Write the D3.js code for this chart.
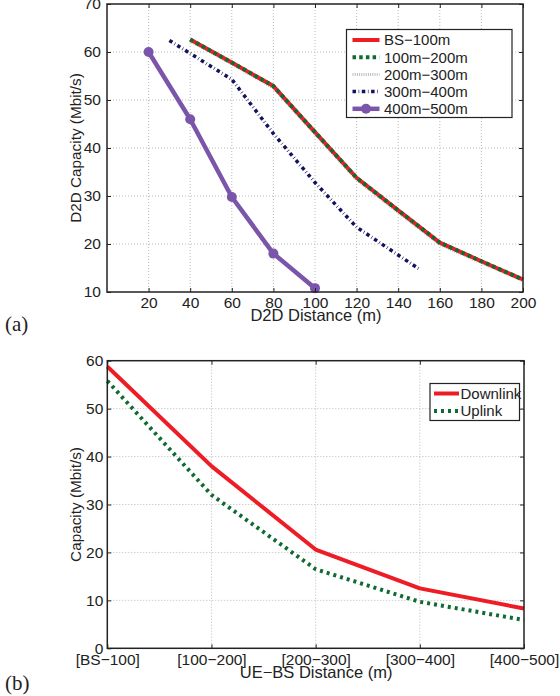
<!DOCTYPE html>
<html>
<head>
<meta charset="utf-8">
<script src="https://cdn.jsdelivr.net/npm/d3@7"></script>
<style>
  body { margin: 0; background: #fff; }
  text { font-family: "Liberation Sans", Arial, sans-serif; fill: #222; }
  .panel { font-family: "Liberation Serif", "Times New Roman", serif; }
</style>
</head>
<body>
<div id="chart"></div>
<script>
// ---- chart (a) data ----
const d2dX = [40, 60, 80, 100, 120, 140, 160, 180, 200];
const bs100 = [62.6, 57.8, 52.9, 43.3, 33.8, 27.0, 20.3, 16.4, 12.6];
const m100_200 = [62.6, 57.8, 52.9, 43.3, 33.8, 27.0, 20.3, 16.4, 12.6];
const m200_300 = [62.3, 57.5, 52.5, 42.9, 33.4, 26.6, 19.9, 16.1, 12.3];
const d2dX300 = [30, 60, 80, 100, 120, 150];
const m300_400 = [62.4, 54.3, 43.0, 32.8, 23.5, 14.8];
const d2dX400 = [20, 40, 60, 80, 100];
const m400_500 = [60, 46, 29.8, 18, 10.8];
const ticksAx = [20, 40, 60, 80, 100, 120, 140, 160, 180, 200];
const ticksAy = [10, 20, 30, 40, 50, 60, 70];

// ---- chart (b) data ----
const ueBsCats = ["[BS\u2212100]", "[100\u2212200]", "[200\u2212300]", "[300\u2212400]", "[400\u2212500]"];
const downlink = [58.8, 38.0, 20.6, 12.5, 8.3];
const uplink = [55.8, 32.0, 16.5, 9.7, 5.9];
const ticksBy = [0, 10, 20, 30, 40, 50, 60];

const svg = d3.select('#chart').append('svg')
  .attr('width', 560).attr('height', 696)
  .style('background', '#fff');

const pair = (xs, ys) => xs.map((x, i) => [x, ys[i]]);

// ================= chart (a) =================
const A = {left: 107, top: 4, width: 416, height: 288};
const ga = svg.append('g').attr('transform', `translate(${A.left},${A.top})`);
const xA = d3.scaleLinear([0, 200], [0, A.width]);
const yA = d3.scaleLinear([10, 70], [A.height, 0]);

// grid
ga.append('g').selectAll('line').data(ticksAx.filter(d => d < 200)).enter().append('line')
  .attr('x1', d => xA(d)).attr('x2', d => xA(d)).attr('y1', 0).attr('y2', A.height)
  .attr('stroke', '#aaa').attr('stroke-width', 0.8).attr('stroke-dasharray', '1,2');
ga.append('g').selectAll('line').data(ticksAy.filter(d => d > 10 && d < 70)).enter().append('line')
  .attr('y1', d => yA(d)).attr('y2', d => yA(d)).attr('x1', 0).attr('x2', A.width)
  .attr('stroke', '#aaa').attr('stroke-width', 0.8).attr('stroke-dasharray', '1,2');

const lineA = d3.line().x(d => xA(d[0])).y(d => yA(d[1]));

const seriesA = [
  {name: "BS\u2212100m", pts: pair(d2dX, bs100), color: '#ee1c24', w: 4, dash: null},
  {name: "100m\u2212200m", pts: pair(d2dX, m100_200), color: '#0f6b32', w: 4, dash: '3.5,3.2'},
  {name: "200m\u2212300m", pts: pair(d2dX, m200_300), color: '#bdbdbd', w: 3, dash: '1,1.2'},
  {name: "300m\u2212400m", pts: pair(d2dX300, m300_400), color: '#12135a', w: 3.5, dash: '3.5,2.6,0.6,2.6'},
  {name: "400m\u2212500m", pts: pair(d2dX400, m400_500), color: '#7a55aa', w: 4.5, dash: null, marker: true}
];
// draw order: gray under, then red, green on top
[2, 0, 1, 3, 4].forEach(i => {
  const s = seriesA[i];
  ga.append('path').datum(s.pts).attr('d', lineA)
    .attr('fill', 'none').attr('stroke', s.color).attr('stroke-width', s.w)
    .attr('stroke-dasharray', s.dash).attr('stroke-linejoin', 'round');
  if (s.marker) {
    ga.selectAll('.mk').data(s.pts).enter().append('circle')
      .attr('cx', d => xA(d[0])).attr('cy', d => yA(d[1])).attr('r', 5)
      .attr('fill', s.color);
  }
});

// axes box + ticks
ga.append('rect').attr('width', A.width).attr('height', A.height)
  .attr('fill', 'none').attr('stroke', '#222').attr('stroke-width', 1.5);
ga.append('g').attr('transform', `translate(0,${A.height})`)
  .call(d3.axisBottom(xA).tickValues(ticksAx).tickSizeInner(-4).tickSizeOuter(0).tickPadding(5));
ga.append('g')
  .call(d3.axisLeft(yA).tickValues(ticksAy).tickSizeInner(-4).tickSizeOuter(0).tickPadding(6));
ga.append('g').attr('transform', `translate(${A.width},0)`)
  .call(d3.axisRight(yA).tickValues(ticksAy).tickSizeInner(-4).tickSizeOuter(0).tickFormat(''));
ga.append('g')
  .call(d3.axisTop(xA).tickValues(ticksAx).tickSizeInner(-4).tickSizeOuter(0).tickFormat(''));
ga.selectAll('.domain').remove();
ga.selectAll('.tick line').attr('stroke', '#222');
ga.selectAll('.tick text').style('font-size', '15.5px').style('font-family', '"Liberation Sans", Arial, sans-serif').attr('fill', '#222');

ga.append('text').attr('transform', `translate(-26,${A.height / 2}) rotate(-90)`)
  .attr('text-anchor', 'middle').style('font-size', '15.3px').text('D2D Capacity (Mbit/s)');
ga.append('text').attr('x', A.width / 2 + 1).attr('y', A.height + 29)
  .attr('text-anchor', 'middle').style('font-size', '16.5px').text('D2D Distance (m)');

// legend (a)
const legA = ga.append('g').attr('transform', `translate(${346.5 - A.left},${29.5 - A.top})`);
legA.append('rect').attr('width', 165.5).attr('height', 88)
  .attr('fill', '#fff').attr('stroke', '#222').attr('stroke-width', 1.2);
seriesA.forEach((s, i) => {
  const y = 10.5 + i * 17.2;
  legA.append('line').attr('x1', 6).attr('x2', 33).attr('y1', y).attr('y2', y)
    .attr('stroke', s.color).attr('stroke-width', s.w).attr('stroke-dasharray', s.dash);
  if (s.marker) legA.append('circle').attr('cx', 19.5).attr('cy', y).attr('r', 5).attr('fill', s.color);
  legA.append('text').attr('x', 37.5).attr('y', y + 5.3).style('font-size', '15px').text(s.name);
});

svg.append('text').attr('class', 'panel').attr('x', 5).attr('y', 331)
  .style('font-size', '21px').text('(a)');

// ================= chart (b) =================
const B = {left: 107.3, top: 360.7, width: 416.7, height: 287.6};
const gb = svg.append('g').attr('transform', `translate(${B.left},${B.top})`);
const xB = d3.scalePoint(ueBsCats, [0, B.width]);
const yB = d3.scaleLinear([0, 60], [B.height, 0]);

gb.append('g').selectAll('line').data(ueBsCats.slice(1, -1)).enter().append('line')
  .attr('x1', d => xB(d)).attr('x2', d => xB(d)).attr('y1', 0).attr('y2', B.height)
  .attr('stroke', '#aaa').attr('stroke-width', 0.8).attr('stroke-dasharray', '1,2');
gb.append('g').selectAll('line').data(ticksBy.slice(1, -1)).enter().append('line')
  .attr('y1', d => yB(d)).attr('y2', d => yB(d)).attr('x1', 0).attr('x2', B.width)
  .attr('stroke', '#aaa').attr('stroke-width', 0.8).attr('stroke-dasharray', '1,2');

const lineB = d3.line().x(d => xB(d[0])).y(d => yB(d[1]));
const seriesB = [
  {name: 'Downlink', pts: pair(ueBsCats, downlink), color: '#ee1c24', w: 4, dash: null},
  {name: 'Uplink', pts: pair(ueBsCats, uplink), color: '#0f6b32', w: 4, dash: '3,4'}
];
seriesB.forEach(s => {
  gb.append('path').datum(s.pts).attr('d', lineB)
    .attr('fill', 'none').attr('stroke', s.color).attr('stroke-width', s.w)
    .attr('stroke-dasharray', s.dash).attr('stroke-linejoin', 'round');
});

gb.append('rect').attr('width', B.width).attr('height', B.height)
  .attr('fill', 'none').attr('stroke', '#222').attr('stroke-width', 1.5);
gb.append('g').attr('transform', `translate(0,${B.height})`)
  .call(d3.axisBottom(xB).tickSizeInner(-4).tickSizeOuter(0).tickPadding(6));
gb.append('g')
  .call(d3.axisLeft(yB).tickValues(ticksBy).tickSizeInner(-4).tickSizeOuter(0).tickPadding(4));
gb.append('g').attr('transform', `translate(${B.width},0)`)
  .call(d3.axisRight(yB).tickValues(ticksBy).tickSizeInner(-4).tickSizeOuter(0).tickFormat(''));
gb.append('g')
  .call(d3.axisTop(xB).tickSizeInner(-4).tickSizeOuter(0).tickFormat(''));
gb.selectAll('.domain').remove();
gb.selectAll('.tick line').attr('stroke', '#222');
gb.selectAll('.tick text').style('font-size', '15.5px').style('font-family', '"Liberation Sans", Arial, sans-serif').attr('fill', '#222');

gb.append('text').attr('transform', `translate(-26,${B.height / 2}) rotate(-90)`)
  .attr('text-anchor', 'middle').style('font-size', '15.3px').text('Capacity (Mbit/s)');
gb.append('text').attr('x', B.width / 2 + 0.5).attr('y', B.height + 29.5)
  .attr('text-anchor', 'middle').style('font-size', '16.5px').text('UE\u2212BS Distance (m)');

const legB = gb.append('g').attr('transform', `translate(${430 - B.left},${383.5 - B.top})`);
legB.append('rect').attr('width', 89.5).attr('height', 37)
  .attr('fill', '#fff').attr('stroke', '#222').attr('stroke-width', 1.2);
seriesB.forEach((s, i) => {
  const y = 10 + i * 17.5;
  legB.append('line').attr('x1', 4).attr('x2', 29).attr('y1', y).attr('y2', y)
    .attr('stroke', s.color).attr('stroke-width', s.w).attr('stroke-dasharray', s.dash);
  legB.append('text').attr('x', 30.5).attr('y', y + 5.3).style('font-size', '15px').text(s.name);
});

svg.append('text').attr('class', 'panel').attr('x', 5).attr('y', 690)
  .style('font-size', '21px').text('(b)');
</script>
</body>
</html>
